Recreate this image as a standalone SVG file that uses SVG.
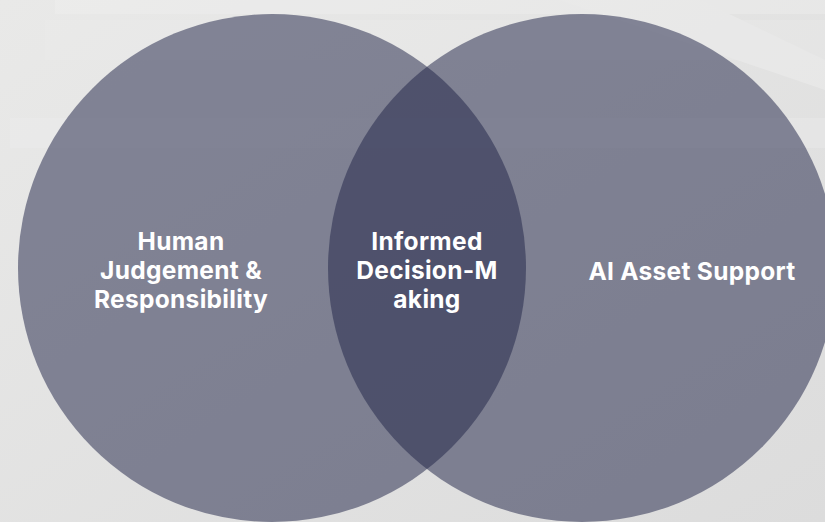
<svg xmlns="http://www.w3.org/2000/svg" width="825" height="522" viewBox="0 0 825 522">
<defs>
<linearGradient id="bg" x1="0" y1="0" x2="1" y2="1">
<stop offset="0" stop-color="#e9e9e8"/>
<stop offset="1" stop-color="#dcdcdc"/>
</linearGradient>
<style>
.c{fill:#232749;fill-opacity:0.52}
.t{font-family:Inter,"Liberation Sans",sans-serif;font-weight:700;font-size:24.5px;letter-spacing:0.3px;fill:#ffffff;text-anchor:middle}
</style>
</defs>
<rect width="825" height="522" fill="url(#bg)"/>
<g opacity="0.35">
<rect x="55" y="0" width="770" height="14" fill="#f2f2f2"/>
<rect x="45" y="20" width="780" height="40" fill="#ececec"/>
<rect x="10" y="118" width="815" height="30" fill="#efefef"/>
<path d="M560 0 L700 0 L825 60 L825 90 Z" fill="#f4f4f4"/>
</g>
<g id="left-circle">
<circle class="c" cx="272" cy="268" r="254"/>
<text class="t" x="181" y="250">Human</text>
<text class="t" x="181" y="279">Judgement &amp;</text>
<text class="t" x="181" y="308">Responsibility</text>
</g>
<g id="right-circle">
<circle class="c" cx="582" cy="268" r="254"/>
<text class="t" x="692" y="280">AI Asset Support</text>
</g>
<g id="intersection">
<text class="t" x="427" y="250">Informed</text>
<text class="t" x="427" y="279">Decision-M</text>
<text class="t" x="427" y="308">aking</text>
</g>
<g id="connectors"/>
</svg>
